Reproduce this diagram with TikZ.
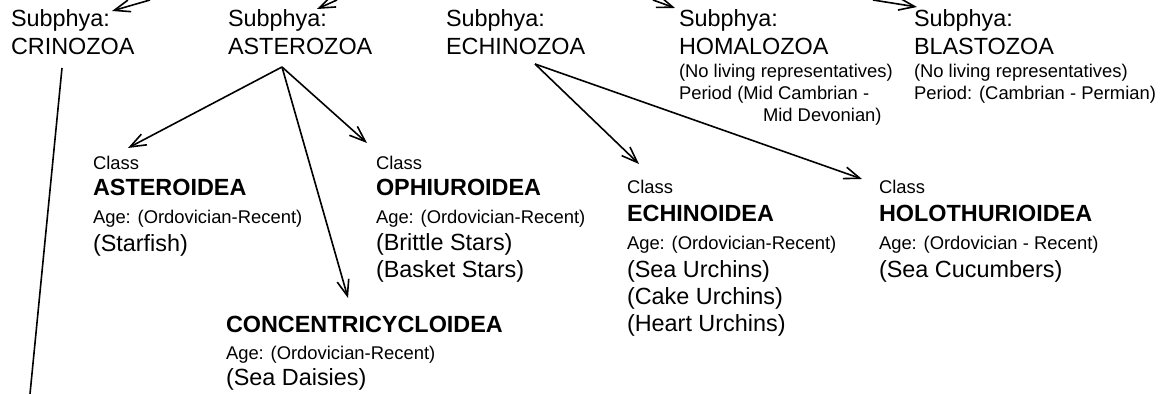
\documentclass[tikz,border=0pt]{standalone}
\usepackage{fontspec}
\setmainfont{Liberation Sans}
\usetikzlibrary{arrows.meta}
\tikzset{
  txt/.style={anchor=base west, inner sep=0pt, outer sep=0pt},
  big/.style={txt, font=\fontsize{11.7}{14}\selectfont},
  small/.style={txt, font=\fontsize{9.2}{11}\selectfont},
  heavy/.style={txt, font=\fontsize{11.7}{14}\selectfont\bfseries},
  link/.style={line width=0.8pt, black},
  arr/.style={link, -{Straight Barb[length=8pt, width=6pt, line width=0.8pt]}}
}
\begin{document}
\begin{tikzpicture}[x=0.5pt, y=-0.5pt]
\useasboundingbox (0,0) rectangle (1164,394);
% --- Subphyla ---
\node[big] (crinoA) at (11,27) {Subphya:};
\node[big] (crinoB) at (11,55) {CRINOZOA};
\node[big] (asterA) at (228,27) {Subphya:};
\node[big] (asterB) at (228,55) {ASTEROZOA};
\node[big] (echinA) at (446,27) {Subphya:};
\node[big] (echinB) at (446,55) {ECHINOZOA};
\node[big] (homalA) at (679,27) {Subphya:};
\node[big] (homalB) at (679,55) {HOMALOZOA};
\node[small] (homalC) at (679,78) {(No living representatives)};
\node[small] (homalD) at (679,100) {Period (Mid Cambrian -};
\node[small] (homalE) at (763,122) {Mid Devonian)};
\node[big] (blastA) at (914,27) {Subphya:};
\node[big] (blastB) at (914,55) {BLASTOZOA};
\node[small] (blastC) at (914,78) {(No living representatives)};
\node[small] (blastD) at (914,100) {Period: (Cambrian - Permian)};
% --- Classes ---
\node[small] (asteroA) at (93,170) {Class};
\node[heavy] (asteroB) at (93,196) {ASTEROIDEA};
\node[small] (asteroC) at (93,224) {Age: (Ordovician-Recent)};
\node[big] (asteroD) at (93,252) {(Starfish)};
\node[small] (ophiA) at (376,170) {Class};
\node[heavy] (ophiB) at (376,196) {OPHIUROIDEA};
\node[small] (ophiC) at (376,224) {Age: (Ordovician-Recent)};
\node[big] (ophiD) at (376,251) {(Brittle Stars)};
\node[big] (ophiE) at (376,278) {(Basket Stars)};
\node[heavy] (concB) at (226,333) {CONCENTRICYCLOIDEA};
\node[small] (concC) at (226,360) {Age: (Ordovician-Recent)};
\node[big] (concD) at (226,386) {(Sea Daisies)};
\node[small] (echiA) at (627,194) {Class};
\node[heavy] (echiB) at (627,222) {ECHINOIDEA};
\node[small] (echiC) at (627,250) {Age: (Ordovician-Recent)};
\node[big] (echiD) at (627,278) {(Sea Urchins)};
\node[big] (echiE) at (627,305) {(Cake Urchins)};
\node[big] (echiF) at (627,332) {(Heart Urchins)};
\node[small] (holoA) at (879,194) {Class};
\node[heavy] (holoB) at (879,222) {HOLOTHURIOIDEA};
\node[small] (holoC) at (879,250) {Age: (Ordovician - Recent)};
\node[big] (holoD) at (879,278) {(Sea Cucumbers)};
% --- connector ends ---
\coordinate (inCrino) at (150,0);
\coordinate (tipCrino) at (112,11);
\coordinate (inAster) at (337,0);
\coordinate (tipAster) at (317,9);
\coordinate (inHomal) at (653,0);
\coordinate (tipHomal) at (675,8);
\coordinate (inBlast) at (873,0);
\coordinate (tipBlast) at (917,7);
\coordinate (asterOut) at (282,67);
\coordinate (echinOut) at (535,64);
\coordinate (crinoOut) at (62,68);
\coordinate (crinoEnd) at (30,394);
\coordinate (asteroIn) at (128,148);
\coordinate (ophiIn) at (367,143);
\coordinate (concIn) at (348,298);
\coordinate (echiIn) at (639,164);
\coordinate (holoIn) at (862,179);
% --- connectors ---
\draw[arr] (inCrino) -- (tipCrino);
\draw[arr] (inAster) -- (tipAster);
\draw[arr] (inHomal) -- (tipHomal);
\draw[arr] (inBlast) -- (tipBlast);
\draw[link] (crinoOut) -- (crinoEnd);
\draw[arr] (asterOut) -- (asteroIn);
\draw[arr] (asterOut) -- (ophiIn);
\draw[arr] (asterOut) -- (concIn);
\draw[arr] (echinOut) -- (echiIn);
\draw[arr] (echinOut) -- (holoIn);
\end{tikzpicture}
\end{document}
